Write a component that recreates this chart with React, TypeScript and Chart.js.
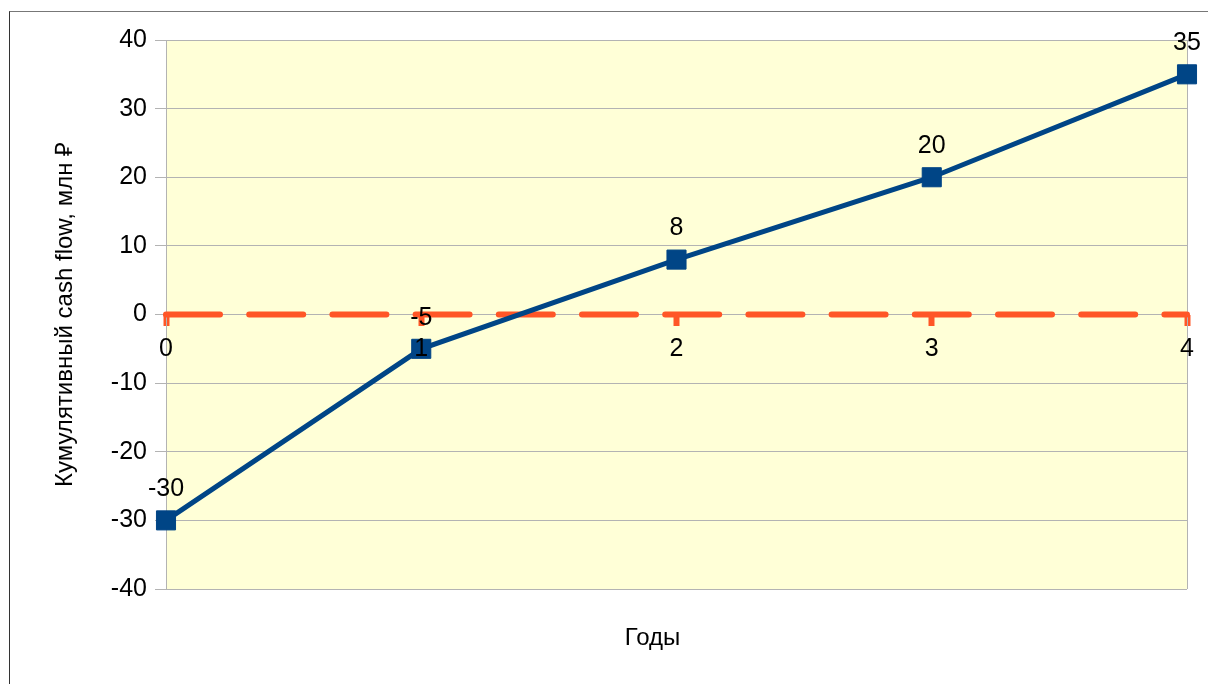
import { useEffect, useRef } from "react";
import { Chart, registerables } from "chart.js";

Chart.register(...registerables);

// Years on the horizontal axis
const years = ["0", "1", "2", "3", "4"];
// Cumulative cash flow per year, mln RUB
const cumulativeCashFlow = [-30, -5, 8, 20, 35];
// Break-even reference (zero level)
const breakEven = [0, 0, 0, 0, 0];
// Value axis range
const yMin = -40;
const yMax = 40;
const yStep = 10;

const yTitle = "Кумулятивный cash flow, млн ₽";
const xTitle = "Годы";

const FONT = "Liberation Sans";
const BLUE = "#004586";
const RED = "#ff5627";
const GRID = "#b3b3b3";
const PLOT_BG = "#ffffd7";

// Fills the plot area and draws its right edge
const plotBackground = {
  id: "plotBackground",
  afterLayout(chart: any) {
    // centre the horizontal axis title over the value labels + plot span
    const x2 = chart.scales.x2;
    const y = chart.scales.y;
    if (x2 && y) {
      x2.left = y.right - 48;
    }
  },
  beforeDraw(chart: any) {
    const { ctx, chartArea } = chart;
    const { left, top, right, bottom } = chartArea;
    ctx.save();
    ctx.fillStyle = PLOT_BG;
    ctx.fillRect(left, top, right - left, bottom - top);
    ctx.restore();
  },
  beforeDatasetsDraw(chart: any) {
    const { ctx, chartArea } = chart;
    const { top, right, bottom } = chartArea;
    ctx.save();
    ctx.strokeStyle = GRID;
    ctx.lineWidth = 1;
    ctx.beginPath();
    ctx.moveTo(Math.round(right) + 0.5, top);
    ctx.lineTo(Math.round(right) + 0.5, bottom);
    ctx.stroke();
    ctx.restore();
  },
};

// Value labels above each point of the cash-flow series
const valueLabels = {
  id: "valueLabels",
  afterDatasetsDraw(chart: any) {
    const { ctx } = chart;
    const meta = chart.getDatasetMeta(0);
    const values = chart.data.datasets[0].data as number[];
    ctx.save();
    ctx.font = `25px "${FONT}"`;
    ctx.fillStyle = "#000";
    ctx.textAlign = "center";
    ctx.textBaseline = "middle";
    meta.data.forEach((pt: any, i: number) => {
      ctx.fillText(String(values[i]), pt.x, pt.y - 31);
    });
    ctx.restore();
  },
};

export default function App() {
  const canvasRef = useRef<HTMLCanvasElement | null>(null);

  useEffect(() => {
    if (!canvasRef.current) return;
    Chart.defaults.font.family = FONT;
    const chart = new Chart(canvasRef.current, {
      type: "line",
      data: {
        labels: years,
        datasets: [
          {
            data: cumulativeCashFlow,
            borderColor: BLUE,
            backgroundColor: BLUE,
            borderWidth: 5,
            pointStyle: "rect",
            pointRadius: 13.5,
            pointBorderWidth: 1,
            pointBackgroundColor: BLUE,
            pointBorderColor: BLUE,
            tension: 0,
            clip: false,
          },
          {
            data: breakEven,
            borderColor: RED,
            borderWidth: 6,
            borderDash: [54, 29.2],
            borderCapStyle: "round",
            pointRadius: 0,
            tension: 0,
            clip: false,
          },
        ],
      },
      options: {
        responsive: false,
        animation: false,
        devicePixelRatio: 1,
        layout: { padding: { left: 0, top: 40, right: 21, bottom: 0 } },
        plugins: {
          legend: { display: false },
          tooltip: { enabled: false },
        },
        scales: {
          y: {
            type: "linear",
            min: yMin,
            max: yMax,
            ticks: {
              stepSize: yStep,
              color: "#000",
              font: { size: 25 },
              padding: 8,
            },
            grid: {
              color: GRID,
              lineWidth: 1,
              tickLength: 11,
              tickColor: GRID,
            },
            border: { color: GRID, width: 1 },
            title: {
              display: true,
              text: yTitle,
              color: "#000",
              font: { size: 24 },
              padding: { top: 51, bottom: 0 },
            },
            afterFit(scale: any) {
              scale.width = 166;
            },
          },
          x: {
            type: "category",
            position: { y: 0 },
            ticks: {
              color: "#000",
              font: { size: 25 },
              padding: 9,
              maxRotation: 0,
              autoSkip: false,
              z: 1,
            },
            grid: {
              drawOnChartArea: false,
              drawTicks: true,
              tickLength: 11,
              tickColor: RED,
              tickWidth: 6,
            },
            border: { display: false },
          },
          x2: {
            type: "category",
            axis: "x",
            position: "bottom",
            labels: years,
            ticks: { display: false },
            grid: { display: false },
            border: { display: false },
            title: {
              display: true,
              text: xTitle,
              color: "#000",
              font: { size: 24 },
              padding: { top: 0, bottom: 31 },
            },
            afterFit(scale: any) {
              scale.height = 95;
            },
          },
        },
      } as any,
      plugins: [plotBackground, valueLabels],
    });
    return () => chart.destroy();
  }, []);

  return (
    <div style={{ position: "fixed", left: 0, top: 0, width: 1208, height: 684, background: "#fff" }}>
      <div
        style={{
          position: "absolute",
          left: 9,
          top: 11,
          width: 1199,
          height: 673,
          boxSizing: "border-box",
          borderTop: "1px solid #777",
          borderLeft: "1px solid #333",
        }}
      />
      <canvas
        ref={canvasRef}
        width={1208}
        height={684}
        style={{ position: "absolute", left: 0, top: 0, width: 1208, height: 684 }}
      />
    </div>
  );
}
